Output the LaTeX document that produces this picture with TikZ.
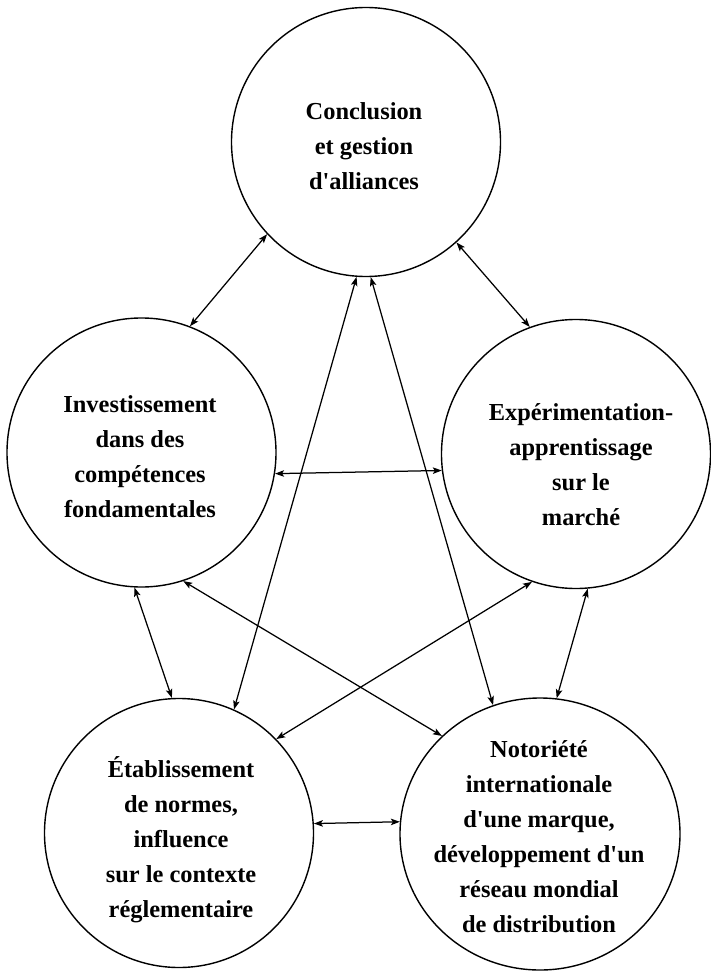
\documentclass[tikz,border=0pt]{standalone}
\usepackage{fontspec}
\setmainfont{Liberation Serif}
\usetikzlibrary{arrows.meta,shapes.geometric}

\tikzset{
  bubble/.style={draw, circle, line width=1.4pt, inner sep=0pt, minimum size=269pt},
  bubbleoval/.style={draw, ellipse, line width=1.4pt, inner sep=0pt,
                     minimum width=280pt, minimum height=272pt},
  label text/.style={align=center, inner sep=0pt,
                     font=\fontsize{24.4}{35}\selectfont\bfseries},
  link/.style={line width=1.25pt,
               {Stealth[length=9pt,width=6.5pt,inset=2pt]}-{Stealth[length=9pt,width=6.5pt,inset=2pt]}}
}
\newcommand{\apos}{\textquotesingle}

\begin{document}
\begin{tikzpicture}[x=1pt,y=-1pt]
  \useasboundingbox (0,0) rectangle (710,971);

  % the five circles
  \node[bubble]     (T)  at (366,142)   {};
  \node[bubble]     (L)  at (141.5,452.5) {};
  \node[bubble]     (R)  at (576,454)   {};
  \node[bubble]     (BL) at (179,833)   {};
  \node[bubbleoval] (BR) at (540,834)   {};

  % their labels
  \node[label text] (Tt)  at (364,146) {Conclusion\\et gestion\\d\apos alliances};
  \node[label text] (Lt)  at (140,457) {Investissement\\dans des\\compétences\\fondamentales};
  \node[label text] (Rt)  at (581,465) {Expérimentation-\\apprentissage\\sur le\\marché};
  \node[label text] (BLt) at (181,840) {Établissement\\de normes,\\influence\\sur le contexte\\réglementaire};
  \node[label text] (BRt) at (539,837) {Notoriété\\internationale\\d\apos une marque,\\développement d\apos un\\réseau mondial\\de distribution};

  % two-way links between every pair
  \draw[link] (T.223.5) -- (L.69.2);
  \draw[link] (T.312.9) -- (R.110.6);
  \draw[link] (T.266.7) -- (BL.66);
  \draw[link] (T.272.5) -- (BR.110);
  \draw[link] (L.351.9) -- (R.187.5);
  \draw[link] (L.267.7) -- (BL.93.8);
  \draw[link] (L.288.6) -- (BR.135.9);
  \draw[link] (R.251.4) -- (BL.44.4);
  \draw[link] (R.275.3) -- (BR.83.9);
  \draw[link] (BL.4.3)  -- (BR.175.5);
\end{tikzpicture}
\end{document}
